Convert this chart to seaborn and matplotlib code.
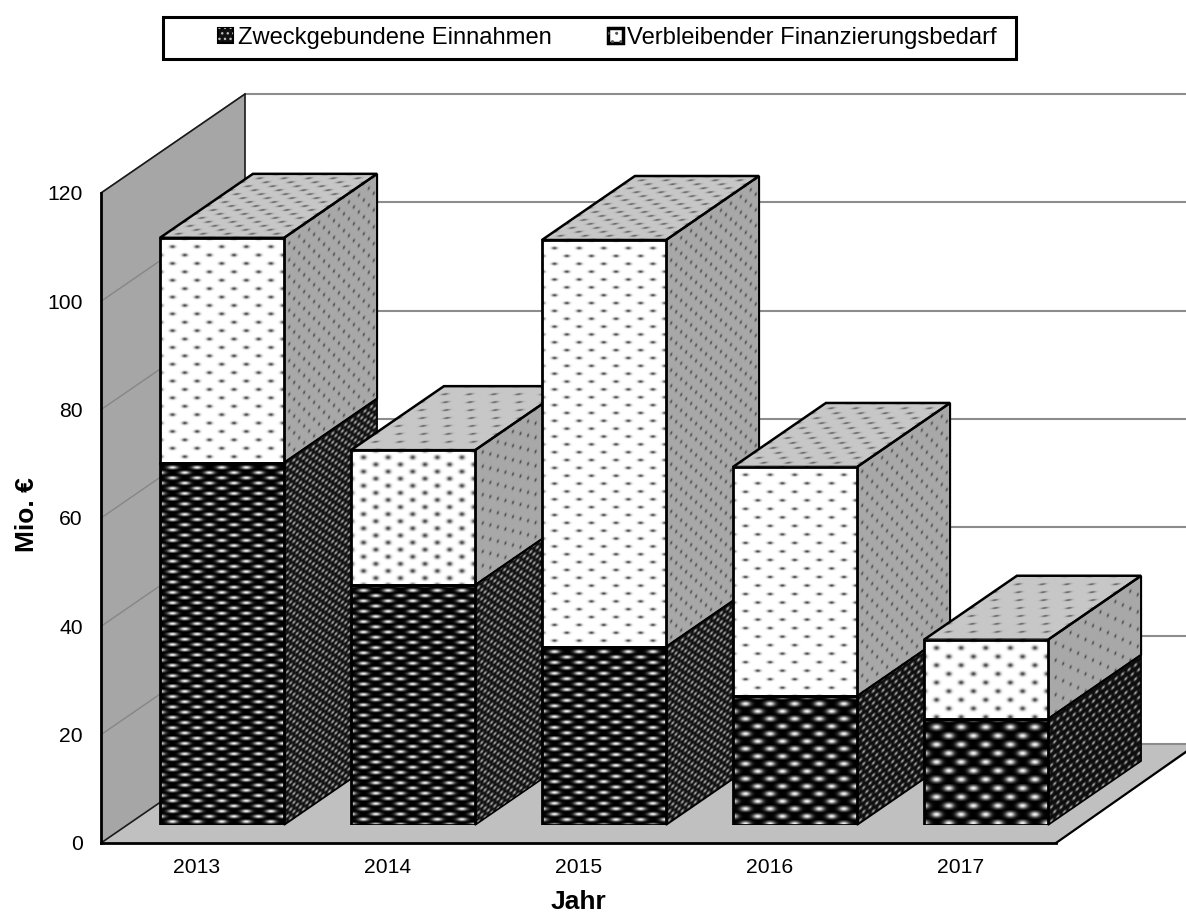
import numpy as np
import matplotlib
matplotlib.use('Agg')
import matplotlib.pyplot as plt
import seaborn as sns
from matplotlib.image import AxesImage
from matplotlib.legend_handler import HandlerTuple
from matplotlib.patches import Patch, Polygon, Rectangle
from matplotlib.transforms import Affine2D

# values in Mio. EUR
years = ['2013', '2014', '2015', '2016', '2017']
einnahmen = [66.9, 44.3, 32.9, 23.8, 19.6]
bedarf = [41.5, 24.9, 75.1, 42.3, 14.6]
y_ticks = [0, 20, 40, 60, 80, 100, 120]
legend_labels = ['Zweckgebundene Einnahmen', 'Verbleibender Finanzierungsbedarf']

# texture spacing per bar (the pattern fill gets resampled differently on each bar)
upper_rows = [8.4, 7.1, 7.85, 8.5, 8.6]
upper_dot_h = [1.6, 2.2, 1.4, 1.4, 2.2]
lower_rows = [5.2, 5.2, 5.4, 7.5, 8.7]
side_cols = [10, 15, 10, 10, 15]
top_rows = [4.0, 8.0, 4.0, 5.0, 8.0]

W, H = 1186, 914
PX_PER_CAT = 191.0
PX_PER_UNIT = 650 / 120
BAR_W = 0.65
# depth of the whole chart box and of one bar, in data units
BOX_DX, BOX_DY = 144 / PX_PER_CAT, 99 / PX_PER_UNIT
BAR_DX, BAR_DY = 93 / PX_PER_CAT, 64 / PX_PER_UNIT

sns.set_style('white')
plt.rcParams['font.family'] = ['Liberation Sans', 'DejaVu Sans']
plt.rcParams['text.color'] = 'black'
plt.rcParams['axes.labelcolor'] = 'black'


def px_axes(fig, left, top, right, bottom):
    return fig.add_axes([left / W, 1 - bottom / H, (right - left) / W, (bottom - top) / H])


def texture(w, h, col, row, rx, ry, base, spot):
    # staggered soft spots, same look as the resampled pattern fill
    ys, xs = np.mgrid[0:int(h * 2) + 1, 0:int(w * 2) + 1] / 2
    r = np.round(ys / row)
    dx = ((xs - (r % 2) * col / 2 + col / 2) % col) - col / 2
    dy = ys - r * row
    return base + (spot - base) * np.exp(-((dx / rx) ** 2 + (dy / ry) ** 2))


def paint_face(ax, origin, u, v, tile, z):
    im = AxesImage(ax, cmap='gray', interpolation='bilinear', origin='upper', zorder=z)
    im.set_data(tile)
    im.set_clim(0, 1)
    im.set_extent((0, 1, 1, 0))
    # unit square -> parallelogram (v runs downward in the tile)
    im.set_transform(Affine2D.from_values(u[0], u[1], -v[0], -v[1],
                                          origin[0] + v[0], origin[1] + v[1]) + ax.transData)
    im.set_clip_on(False)
    ax.add_image(im)


fig = plt.figure(figsize=(W / 100, H / 100), dpi=100)

# main axes: walls, floor, gridlines, tick labels
ax = px_axes(fig, 101, 193, 1056, 843)
ax.set_xlim(-0.5, 4.5)
ax.set_ylim(0, 120)
left_x, right_x = -0.5, 4.5
ax.add_patch(Polygon([(left_x, 0), (left_x + BOX_DX, BOX_DY), (right_x + BOX_DX, BOX_DY), (right_x, 0)],
                     facecolor='#c0c0c0', edgecolor='none', clip_on=False, zorder=1))
ax.add_patch(Polygon([(left_x, 0), (left_x + BOX_DX, BOX_DY), (left_x + BOX_DX, 120 + BOX_DY), (left_x, 120)],
                     facecolor='#a6a6a6', edgecolor='none', clip_on=False, zorder=1))
for v in y_ticks:
    ax.plot([left_x + BOX_DX, right_x + BOX_DX], [v + BOX_DY, v + BOX_DY], color='#8c8c8c', lw=1.5,
            clip_on=False, zorder=2, solid_capstyle='butt')
    if v > 0:
        ax.plot([left_x, left_x + BOX_DX], [v, v + BOX_DY], color='#868686', lw=1.0, clip_on=False, zorder=2)
edge = dict(color='#1a1a1a', lw=1.2, clip_on=False, zorder=3)
ax.plot([left_x, left_x + BOX_DX], [120, 120 + BOX_DY], **edge)
ax.plot([left_x + BOX_DX, left_x + BOX_DX], [BOX_DY, 120 + BOX_DY], **edge)
ax.plot([left_x, left_x + BOX_DX], [0, BOX_DY], **edge)
ax.plot([right_x, right_x + BOX_DX * 0.98], [0, BOX_DY], color='black', lw=1.6, clip_on=False, zorder=3)

ax.set_xticks(range(len(years)))
ax.set_xticklabels(years)
ax.set_yticks(y_ticks)
ax.tick_params(axis='both', length=0, labelsize=15.2, labelcolor='black')
ax.tick_params(axis='x', pad=11)
ax.tick_params(axis='y', pad=13)
ax.set_xlabel('Jahr', fontsize=19, fontweight='bold')
ax.set_ylabel('Mio. €', fontsize=19, fontweight='bold')
ax.xaxis.set_label_coords(0.5, -0.072)
ax.yaxis.set_label_coords(-0.065, 0.505)
for s in ['top', 'right']:
    ax.spines[s].set_visible(False)
for s in ['left', 'bottom']:
    ax.spines[s].set_linewidth(2)
    ax.spines[s].set_color('black')
    ax.spines[s].set_zorder(4)

# second axes shifted onto the front plane of the bars
ax_bar = px_axes(fig, 101 + 25.5, 193 - 18, 1056 + 25.5, 843 - 18)
ax_bar.patch.set_visible(False)
sns.barplot(x=years, y=einnahmen, fill=False, color='black', width=BAR_W, linewidth=2, errorbar=None, ax=ax_bar)
sns.barplot(x=years, y=bedarf, bottom=einnahmen, fill=False, color='black', width=BAR_W, linewidth=2,
            errorbar=None, ax=ax_bar)
ax_bar.set_xlim(-0.5, 4.5)
ax_bar.set_ylim(0, 120)
ax_bar.axis('off')

bar_px = BAR_W * PX_PER_CAT
for i in range(len(years)):
    x0 = i - BAR_W / 2
    x1 = i + BAR_W / 2
    low, top = einnahmen[i], einnahmen[i] + bedarf[i]
    z = 10 * i + 10
    u_front = (BAR_W, 0)
    u_side = (BAR_DX, BAR_DY)

    # side faces
    h_low = low * PX_PER_UNIT
    h_up = bedarf[i] * PX_PER_UNIT
    paint_face(ax_bar, (x1, 0), u_side, (0, low),
               texture(93, h_low, 6.5, max(lower_rows[i] * 0.8, 4.5), 1.7, 1.5, 0.05, 0.68), z)
    paint_face(ax_bar, (x1, low), u_side, (0, bedarf[i]),
               texture(93, h_up, side_cols[i], upper_rows[i], 1.1, 1.6, 0.66, 0.28), z)
    # top face
    paint_face(ax_bar, (x0, top), u_front, (BAR_DX, BAR_DY),
               texture(bar_px, 64, 24.5, top_rows[i], 3.2, 1.0, 0.78, 0.36), z)
    for pts, lw in [([(x1, 0), (x1 + BAR_DX, BAR_DY), (x1 + BAR_DX, low + BAR_DY), (x1, low)], 1.2),
                    ([(x1, low), (x1 + BAR_DX, low + BAR_DY), (x1 + BAR_DX, top + BAR_DY), (x1, top)], 1.5),
                    ([(x0, top), (x1, top), (x1 + BAR_DX, top + BAR_DY), (x0 + BAR_DX, top + BAR_DY)], 1.8)]:
        ax_bar.add_patch(Polygon(pts, facecolor='none', edgecolor='black', lw=lw, clip_on=False, zorder=z + 1))

    # front faces
    paint_face(ax_bar, (x0, 0), u_front, (0, low),
               texture(bar_px, h_low, 24.5, lower_rows[i], 5.0, 0.33 * lower_rows[i], 0.0, 0.95), z + 2)
    paint_face(ax_bar, (x0, low), u_front, (0, bedarf[i]),
               texture(bar_px, h_up, 24.5, upper_rows[i], 2.8, upper_dot_h[i], 1.0, 0.28), z + 2)

    for cont in ax_bar.containers:
        cont.patches[i].set_zorder(z + 3)

# legend with plain box around it, hatch overlay stands in for the pattern swatch
handles = [(Patch(facecolor='#111111', edgecolor='black', lw=1.5),
            Patch(facecolor='none', edgecolor='#bbbbbb', hatch='...', lw=0)),
           (Patch(facecolor='white', edgecolor='black', lw=2.5),
            Patch(facecolor='none', edgecolor='#555555', hatch='..', lw=0))]
leg = fig.legend(handles, legend_labels, ncol=2, loc='center left', frameon=False,
                 bbox_to_anchor=(218 / W, 1 - 38 / H), fontsize=17.15, handlelength=0.62, handleheight=0.62,
                 handletextpad=0.2, columnspacing=2.37, borderpad=0, borderaxespad=0,
                 handler_map={tuple: HandlerTuple(ndivide=1, pad=0)})
fig.add_artist(Rectangle((163 / W, 1 - 59 / H), 853 / W, 42 / H, transform=fig.transFigure,
                         facecolor='none', edgecolor='black', lw=2.2))

fig.savefig('out.png', dpi=100)
